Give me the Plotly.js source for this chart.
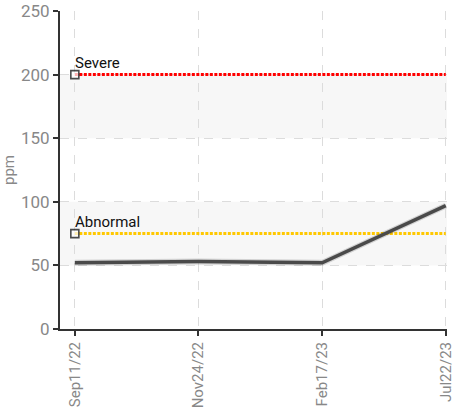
<!DOCTYPE html>
<html>
<head>
<meta charset="utf-8">
<script src="https://cdn.plot.ly/plotly-3.0.1.min.js"></script>
<style>html,body{margin:0;padding:0;background:#fff;}#chart{width:455px;height:411px;}</style>
</head>
<body>
<div id="chart"></div>
<script>
const dates = ["Sep11/22", "Nov24/22", "Feb17/23", "Jul22/23"];
const ppmValues = [52, 53, 52, 97];
const severeLevel = 200;
const abnormalLevel = 75;
const yTicks = [0, 50, 100, 150, 200, 250];
const bands = [[50, 100], [150, 200]];

const font = "Roboto, 'Liberation Sans', sans-serif";

function levelTrace(level, color) {
  return {
    x: dates, y: dates.map(() => level), type: 'scatter', mode: 'lines+markers',
    line: {color: color, width: 3, dash: '3px,1.5px'},
    marker: {symbol: 'square', size: dates.map((d, i) => i === 0 ? 8 : 0), color: '#fff', line: {color: '#000', width: 1.6}},
    hoverinfo: 'skip', showlegend: false, cliponaxis: false
  };
}

const traces = [
  levelTrace(severeLevel, '#ff0000'),
  levelTrace(abnormalLevel, '#ffc800'),
  {x: dates, y: ppmValues, type: 'scatter', mode: 'lines', line: {color: 'rgba(0,0,0,0.15)', width: 6}, showlegend: false, hoverinfo: 'skip'},
  {x: dates, y: ppmValues, type: 'scatter', mode: 'lines', line: {color: '#4a4a4a', width: 3.5}, showlegend: false}
];

const shapes = bands.map(b => ({type: 'rect', xref: 'paper', yref: 'y', x0: 0, x1: 1, y0: b[0], y1: b[1], fillcolor: '#f7f7f7', line: {width: 0}, layer: 'below'}));

const annotations = [
  {x: dates[0], y: severeLevel, text: 'Severe', showarrow: false, xanchor: 'left', yanchor: 'bottom', xshift: -2, yshift: 1, font: {family: font, size: 15, color: '#111'}},
  {x: dates[0], y: abnormalLevel, text: 'Abnormal', showarrow: false, xanchor: 'left', yanchor: 'bottom', xshift: -2, yshift: 1, font: {family: font, size: 15, color: '#111'}}
];

const layout = {
  width: 455, height: 411,
  margin: {l: 60, r: 8, t: 11, b: 82},
  paper_bgcolor: '#fff', plot_bgcolor: 'rgba(0,0,0,0)',
  showlegend: false,
  font: {family: font},
  xaxis: {
    type: 'category', range: [-0.12, 3.01],
    showline: true, linecolor: '#333', linewidth: 2,
    ticks: 'outside', ticklen: 5, tickcolor: '#333', tickwidth: 2,
    tickangle: -90, tickfont: {family: font, size: 15, color: '#888'},
    showgrid: true, gridcolor: '#dcdcdc', griddash: 'dash', gridwidth: 1,
    zeroline: false, fixedrange: true
  },
  yaxis: {
    range: [0, 250], tickvals: yTicks,
    showline: true, linecolor: '#333', linewidth: 2,
    ticks: 'outside', ticklen: 5, tickcolor: '#333', tickwidth: 2,
    tickfont: {family: font, size: 17, color: '#888'},
    showgrid: true, gridcolor: '#dcdcdc', griddash: 'dash', gridwidth: 1,
    zeroline: false, fixedrange: true,
    title: {text: 'ppm', font: {family: font, size: 15, color: '#888'}, standoff: 12}
  },
  shapes: shapes,
  annotations: annotations
};

Plotly.newPlot('chart', traces, layout, {displayModeBar: false, staticPlot: true});
</script>
</body>
</html>
